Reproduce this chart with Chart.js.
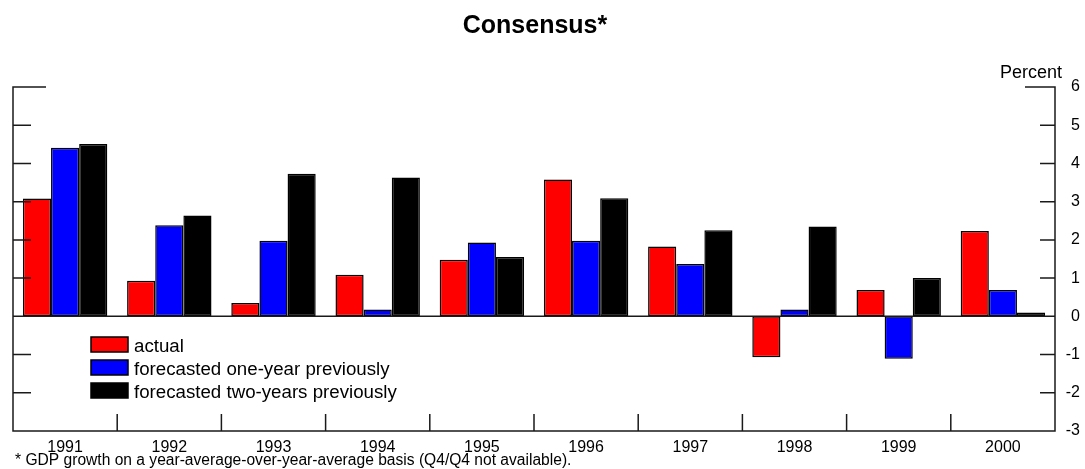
<!DOCTYPE html>
<html lang="en">
<head>
  <meta charset="UTF-8">
  <title>Consensus</title>
  <script src="https://cdn.jsdelivr.net/npm/chart.js"></script>
  <style>
    body { margin: 0; background: #fff; }
    canvas { display: block; }
  </style>
</head>
<body>
  <canvas id="chart" width="1085" height="469"></canvas>
  <script>
    // values (percent)
    const years = ["1991", "1992", "1993", "1994", "1995", "1996", "1997", "1998", "1999", "2000"];
    const actual = [3.08, 0.93, 0.35, 1.09, 1.48, 3.58, 1.83, -1.07, 0.69, 2.23];
    const oneYear = [4.41, 2.38, 1.98, 0.18, 1.93, 1.98, 1.37, 0.18, -1.11, 0.69];
    const twoYear = [4.51, 2.64, 3.73, 3.63, 1.55, 3.09, 2.25, 2.35, 1.00, 0.10];
    const seriesNames = ["actual", "forecasted one-year previously", "forecasted two-years previously"];
    const yMin = -3, yMax = 6;

    const FONT = "'Liberation Sans', Arial, sans-serif";
    const colors = ["#ff0000", "#0000ff", "#000000"];

    // axes frame, inside ticks, zero line, legend and texts
    const decorations = {
      id: "decorations",
      afterDraw(chart) {
        const { ctx, chartArea: a, scales: { x, y } } = chart;
        ctx.save();
        ctx.strokeStyle = "#1a1a1a";
        ctx.lineWidth = 1.5;
        ctx.beginPath();
        ctx.moveTo(a.left + 33, a.top);
        ctx.lineTo(a.left, a.top);
        ctx.lineTo(a.left, a.bottom);
        ctx.lineTo(a.right, a.bottom);
        ctx.lineTo(a.right, a.top);
        ctx.lineTo(a.right - 30, a.top);
        for (let v = yMin + 1; v < yMax; v++) {
          const py = y.getPixelForValue(v);
          if (v === 0) {
            ctx.moveTo(a.left, py);
            ctx.lineTo(a.right, py);
          } else {
            ctx.moveTo(a.left, py);
            ctx.lineTo(a.left + 18, py);
            ctx.moveTo(a.right, py);
            ctx.lineTo(a.right - 15, py);
          }
        }
        for (let i = 0; i < years.length - 1; i++) {
          const px = (x.getPixelForTick(i) + x.getPixelForTick(i + 1)) / 2;
          ctx.moveTo(px, a.bottom);
          ctx.lineTo(px, a.bottom - 17);
        }
        ctx.stroke();

        // legend
        ctx.font = "18.7px " + FONT;
        ctx.textAlign = "left";
        ctx.textBaseline = "alphabetic";
        chart.data.datasets.forEach((ds, i) => {
          const top = 337 + i * 23;
          ctx.fillStyle = ds.backgroundColor;
          ctx.fillRect(91, top, 37, 15);
          ctx.lineWidth = 1.5;
          ctx.strokeStyle = "#000";
          ctx.strokeRect(91, top, 37, 15);
          ctx.fillStyle = "#000";
          ctx.fillText(ds.label, 134, top + 15);
        });

        // title, unit, footnote
        ctx.fillStyle = "#000";
        ctx.font = "bold 25px " + FONT;
        ctx.textAlign = "center";
        ctx.fillText("Consensus*", 535, 33);
        ctx.font = "18px " + FONT;
        ctx.textAlign = "right";
        ctx.fillText("Percent", 1062, 78);
        ctx.font = "15.6px " + FONT;
        ctx.textAlign = "left";
        ctx.fillText("* GDP growth on a year-average-over-year-average basis (Q4/Q4 not available).", 15, 465);
        ctx.restore();
      }
    };

    const ctx = document.getElementById("chart").getContext("2d");
    new Chart(ctx, {
      type: "bar",
      data: {
        labels: years,
        datasets: [actual, oneYear, twoYear].map((d, i) => ({
          label: seriesNames[i],
          data: d,
          backgroundColor: colors[i],
          borderColor: "#000",
          borderWidth: 1.5,
          borderSkipped: false,
          categoryPercentage: 0.81,
          barPercentage: 1.0
        }))
      },
      options: {
        responsive: false,
        animation: false,
        devicePixelRatio: 1,
        layout: { padding: { left: 13, right: 5, top: 87, bottom: 0 } },
        plugins: {
          legend: { display: false },
          title: { display: false },
          tooltip: { enabled: false }
        },
        scales: {
          x: {
            grid: { display: false, drawTicks: false },
            border: { display: false },
            ticks: { color: "#000", font: { family: FONT, size: 16 }, padding: 7, maxRotation: 0 },
            afterFit(scale) { scale.height = 38; }
          },
          y: {
            position: "right",
            min: yMin,
            max: yMax,
            grid: { display: false, drawTicks: false },
            border: { display: false },
            ticks: { stepSize: 1, color: "#000", font: { family: FONT, size: 16 }, padding: 8, crossAlign: "far" },
            afterFit(scale) { scale.width = 25; }
          }
        }
      },
      plugins: [decorations]
    });
  </script>
</body>
</html>
